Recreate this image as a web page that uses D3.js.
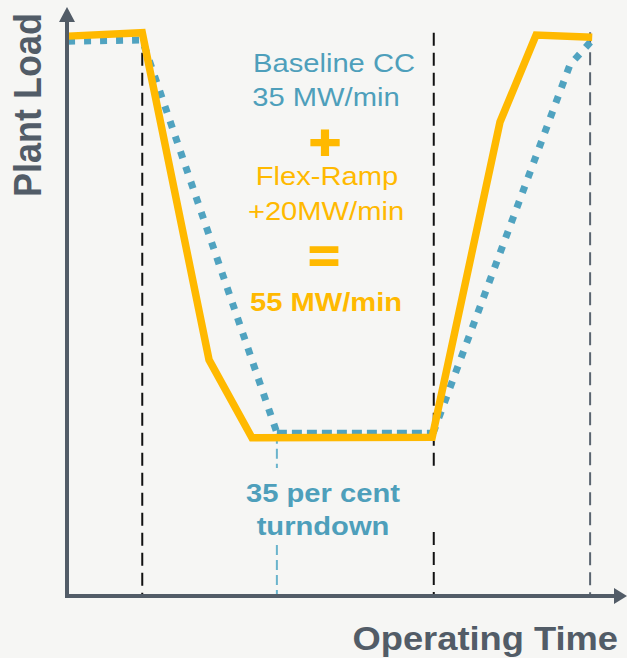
<!DOCTYPE html>
<html>
<head>
<meta charset="utf-8">
<script src="https://cdn.jsdelivr.net/npm/d3@7"></script>
<style>
  html, body { margin: 0; padding: 0; background: #F6F6F4; }
  svg { display: block; }
  text { font-family: "Liberation Sans", Arial, sans-serif; }
</style>
</head>
<body>
<svg id="chart" width="627" height="658"></svg>
<script>
// ---- data (time 0..100, load 0..100) ----
const flexTime = [0.2, 14.2, 26.8, 34.9, 68.9, 81.7, 88.5, 99.1];
const flexLoad = [99.8, 100.4, 42.1, 28.2, 28.3, 84.5, 100, 99.6];

const baseDownTime = [0.2, 14.2, 39.6];
const baseDownLoad = [98.9, 99.1, 29.1];
const baseFlatTime = [39.6, 68.9];
const baseFlatLoad = [29.1, 29.1];
const baseUpTime = [69.1, 94.9, 99.1];
const baseUpLoad = [29.1, 94.7, 99.1];

const markerTime = [14.2, 39.6, 69.2, 98.7];
const markerKind = ["black", "blue", "black", "gray"];

const yAxisTitle = "Plant Load";
const xAxisTitle = "Operating Time";
const baselineLines = ["Baseline CC", "35 MW/min"];
const flexLines = ["Flex-Ramp", "+20MW/min"];
const totalLine = "55 MW/min";
const turndownLines = ["35 per cent", "turndown"];

// ---- layout ----
const W = 627, H = 658;
const x0 = 67, yBase = 596;
const x = d3.scaleLinear().domain([0, 100]).range([67, 597]);
const y = d3.scaleLinear().domain([0, 100]).range([596, 35]);

const ORANGE = "#FFB900";
const BLUE = "#50A3C0";
const BLUE_TEXT = "#4E9FBB";
const GRAY = "#525C67";

const svg = d3.select("#chart");
svg.append("rect").attr("width", W).attr("height", H).attr("fill", "#F6F6F4");

const zip = (a, b) => a.map((v, i) => [v, b[i]]);
const line = d3.line().x(d => x(d[0])).y(d => y(d[1]));

// vertical marker lines
const markerStyle = {
  black: { color: "#111111", dash: "13,7", top: 100.4, gaps: [] },
  blue:  { color: "#6AB4CC", dash: "10,5", top: 28.9, gaps: [[468, 545]] },
  gray:  { color: "#5B6570", dash: "13,7", top: 100.5, gaps: [] }
};
markerTime.forEach((t, i) => {
  const k = markerKind[i];
  const s = markerStyle[k];
  let gaps = s.gaps;
  if (k === "black" && i === 2) gaps = [[468, 532]];
  let segs = [];
  let start = y(s.top);
  gaps.forEach(g => { segs.push([start, g[0]]); start = g[1]; });
  segs.push([start, yBase]);
  segs.forEach(sg => {
    svg.append("line")
      .attr("x1", x(t)).attr("x2", x(t))
      .attr("y1", sg[0]).attr("y2", sg[1])
      .attr("stroke", s.color).attr("stroke-width", 2)
      .attr("stroke-dasharray", s.dash);
  });
});

// baseline (blue dotted)
svg.append("path").datum(zip(baseDownTime, baseDownLoad))
  .attr("d", line).attr("fill", "none").attr("stroke", BLUE)
  .attr("stroke-width", 7).attr("stroke-dasharray", "7,9");
svg.append("path").datum(zip(baseFlatTime, baseFlatLoad))
  .attr("d", line).attr("fill", "none").attr("stroke", BLUE)
  .attr("stroke-width", 6).attr("stroke-dasharray", "10,5");
svg.append("path").datum(zip(baseUpTime, baseUpLoad))
  .attr("d", line).attr("fill", "none").attr("stroke", BLUE)
  .attr("stroke-width", 7).attr("stroke-dasharray", "7,9");

// flex-ramp (orange solid)
svg.append("path").datum(zip(flexTime, flexLoad))
  .attr("d", line).attr("fill", "none").attr("stroke", ORANGE)
  .attr("stroke-width", 7.5).attr("stroke-linejoin", "miter");

// axes
svg.append("line").attr("x1", x0).attr("x2", x0).attr("y1", 20).attr("y2", yBase + 2)
  .attr("stroke", GRAY).attr("stroke-width", 4);
svg.append("path").attr("d", `M${x0},7 L${x0 + 8},22 L${x0 - 8},22 Z`).attr("fill", GRAY);
svg.append("line").attr("x1", x0 - 2).attr("x2", 616).attr("y1", yBase).attr("y2", yBase)
  .attr("stroke", GRAY).attr("stroke-width", 4);
svg.append("path").attr("d", `M627,${yBase} L614,${yBase - 8} L614,${yBase + 8} Z`).attr("fill", GRAY);

// text helper (slight horizontal stretch like the reference)
const SX = 1.1;
function txt(str, tx, ty, opts) {
  const t = svg.append("text")
    .attr("transform", `translate(${tx},${ty}) scale(${SX},1)` + (opts.rotate ? ` rotate(${opts.rotate})` : ""))
    .attr("text-anchor", opts.anchor || "middle")
    .attr("font-size", opts.size)
    .attr("font-weight", opts.bold ? "bold" : "normal")
    .attr("fill", opts.color)
    .text(str);
  if (opts.stroke) t.attr("stroke", opts.color).attr("stroke-width", opts.stroke);
  return t;
}

txt(yAxisTitle, 41, 197, { size: 36, bold: true, color: GRAY, anchor: "start", rotate: -90 });
txt(xAxisTitle, 618, 650, { size: 33, bold: true, color: GRAY, anchor: "end" });

txt(baselineLines[0], 334, 72, { size: 26.5, color: BLUE_TEXT });
txt(baselineLines[1], 326, 106, { size: 26.5, color: BLUE_TEXT });
txt("+", 325, 159, { size: 49, bold: true, color: ORANGE, stroke: 2 });
txt(flexLines[0], 327, 185, { size: 26.5, color: ORANGE });
txt(flexLines[1], 326, 220, { size: 26.5, color: ORANGE });
txt("=", 324, 273, { size: 49, bold: true, color: ORANGE, stroke: 1.5 });
txt(totalLine, 326, 311, { size: 26.5, bold: true, color: ORANGE });
txt(turndownLines[0], 323, 502, { size: 26.5, bold: true, color: BLUE_TEXT });
txt(turndownLines[1], 323, 535, { size: 26.5, bold: true, color: BLUE_TEXT });
</script>
</body>
</html>
